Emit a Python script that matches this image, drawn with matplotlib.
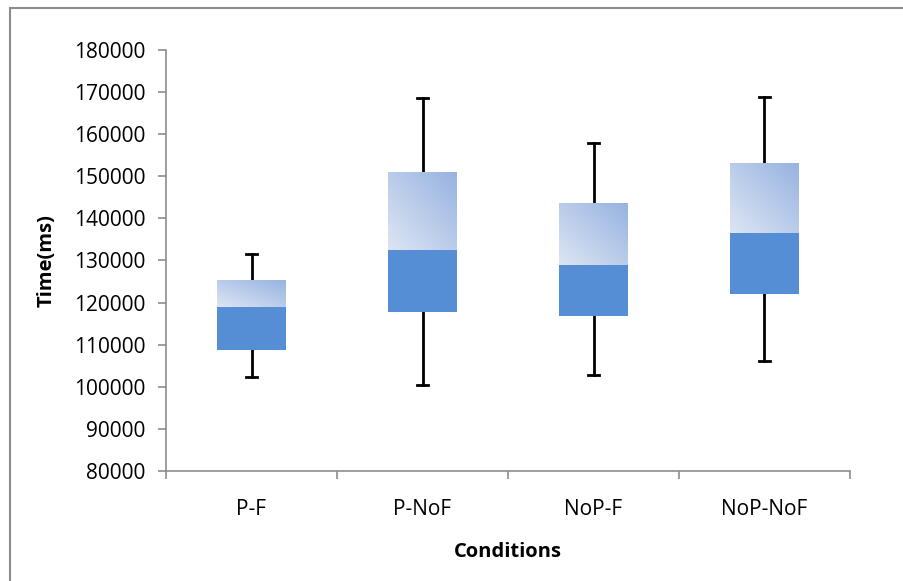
import numpy as np
import matplotlib.pyplot as plt
from matplotlib.patches import Rectangle
from matplotlib.colors import to_rgb

plt.rcParams['font.family'] = ['Open Sans', 'DejaVu Sans']

conditions = ["P-F", "P-NoF", "NoP-F", "NoP-NoF"]
whisker_low = [102300, 100400, 102800, 106100]
q1 = [108700, 117800, 116800, 122000]
median = [119000, 132500, 128900, 136500]
q3 = [125300, 150800, 143600, 152900]
whisker_high = [131500, 168600, 157900, 168800]

fig = plt.figure(figsize=(9.04, 5.81), dpi=100)
# outer chart frame (only left and top visible)
fig.patches.append(Rectangle((9.5 / 904, -0.5), 2, 1.5 - 7.5 / 581, transform=fig.transFigure,
                             fill=False, edgecolor="#8c8c8c", linewidth=1.5, clip_on=False))

ax = fig.add_axes([166 / 904, 1 - 471 / 581, (850 - 166) / 904, (471 - 50) / 581])

x = np.arange(len(conditions))
w = 0.40
solid = "#558ED5"
c_light = np.array(to_rgb("#dde5f3"))
c_dark = np.array(to_rgb("#97b3e1"))

# diagonal gradient for upper box (light bottom-left -> darker top-right)
gx, gy = np.meshgrid(np.linspace(0, 1, 60), np.linspace(0, 1, 60))
t = (gx + gy) / 2
grad = c_light[None, None, :] * (1 - t[..., None]) + c_dark[None, None, :] * t[..., None]

for i in range(len(conditions)):
    x0 = x[i] - w / 2
    ax.bar(x[i], median[i] - q1[i], bottom=q1[i], width=w, color=solid, zorder=3)
    ax.imshow(grad, extent=[x0, x0 + w, median[i], q3[i]], origin="lower",
              aspect="auto", zorder=3)
    ax.plot([x[i], x[i]], [q3[i], whisker_high[i]], color="black", lw=2, zorder=2)
    ax.plot([x[i], x[i]], [whisker_low[i], q1[i]], color="black", lw=2, zorder=2)
    ax.plot([x[i] - 0.035, x[i] + 0.035], [whisker_high[i]] * 2, color="black", lw=2, zorder=2)
    ax.plot([x[i] - 0.035, x[i] + 0.035], [whisker_low[i]] * 2, color="black", lw=2, zorder=2)

ax.set_xlim(-0.5, len(conditions) - 0.5)
ax.set_ylim(80000, 180000)
ax.set_yticks(np.arange(80000, 180001, 10000))
ax.set_xticks(x)
ax.set_xticklabels(conditions)
ax.set_xticks(np.arange(-0.5, len(conditions), 1.0), minor=True)
ax.tick_params(axis="x", which="major", length=0, pad=20, labelsize=15)
ax.tick_params(axis="x", which="minor", length=6, color="#8c8c8c", width=1.2)
ax.tick_params(axis="y", length=6, color="#8c8c8c", width=1.2, labelsize=15, pad=9)

for s in ["top", "right"]:
    ax.spines[s].set_visible(False)
for s in ["left", "bottom"]:
    ax.spines[s].set_color("#8c8c8c")
    ax.spines[s].set_linewidth(1.2)

ax.set_ylabel("Time(ms)", fontsize=14.5, fontweight="bold", labelpad=12)
ax.set_xlabel("Conditions", fontsize=14.5, fontweight="bold", labelpad=16)

fig.savefig("out.png", dpi=100)
